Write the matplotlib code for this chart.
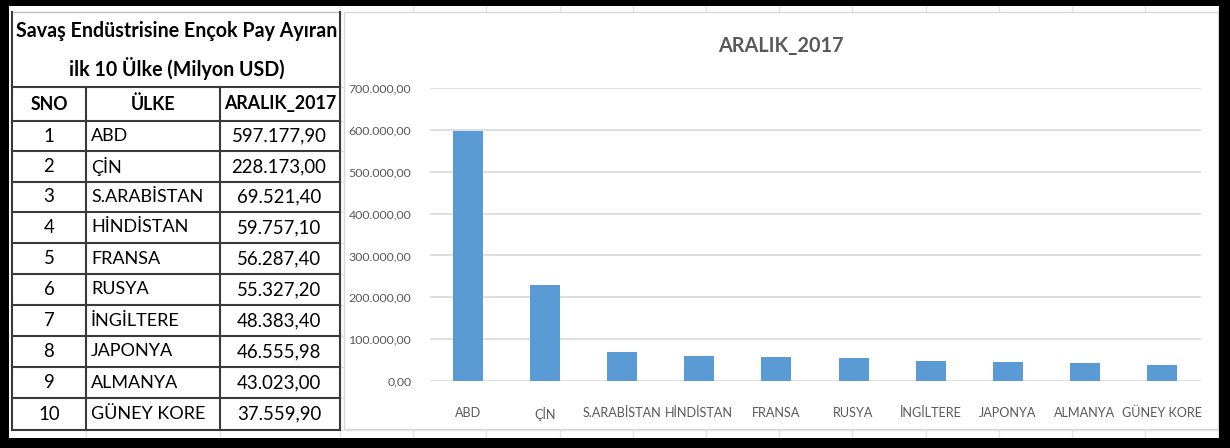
import numpy as np
import matplotlib.pyplot as plt
from matplotlib.patches import Rectangle
from matplotlib.ticker import FuncFormatter, MultipleLocator

"""""""""""""""""""""""""""""""""""""""""""""""""""""""""
: Data
"""""""""""""""""""""""""""""""""""""""""""""""""""""""""
sno = [1, 2, 3, 4, 5, 6, 7, 8, 9, 10]
ulke = ["ABD", "ÇİN", "S.ARABİSTAN", "HİNDİSTAN", "FRANSA",
        "RUSYA", "İNGİLTERE", "JAPONYA", "ALMANYA", "GÜNEY KORE"]
aralik_2017 = [597177.90, 228173.00, 69521.40, 59757.10, 56287.40,
               55327.20, 48383.40, 46555.98, 43023.00, 37559.90]
value_text = ["597.177,90", "228.173,00", "69.521,40", "59.757,10", "56.287,40",
              "55.327,20", "48.383,40", "46.555,98", "43.023,00", "37.559,90"]

table_title = ["Savaş Endüstrisine Ençok Pay Ayıran", "ilk 10 Ülke (Milyon USD)"]
headers = ["SNO", "ÜLKE", "ARALIK_2017"]
chart_title = "ARALIK_2017"

FONT = ["Lato", "DejaVu Sans"]
GRAY_TXT = "#595959"
GRID = "#D9D9D9"
BAR = "#5B9BD5"


def tr_number(v, pos=None):
	s = "{:,.2f}".format(v)
	return s.replace(",", "X").replace(".", ",").replace("X", ".")


"""""""""""""""""""""""""""""""""""""""""""""""""""""""""
: Canvas (pixel coords)
"""""""""""""""""""""""""""""""""""""""""""""""""""""""""
W, H = 1230, 448
fig = plt.figure(figsize=(W / 100, H / 100), dpi=100)
renderer = fig.canvas.get_renderer()


def fit_size(txt, target_px, weight="normal"):
	# font size that makes txt about target_px wide
	t = fig.text(0, 0, txt, fontsize=10, family=FONT, fontweight=weight)
	w = t.get_window_extent(renderer).width
	t.remove()
	return 10 * target_px / w


bg = fig.add_axes([0, 0, 1, 1])
bg.set_xlim(0, W)
bg.set_ylim(H, 0)
bg.axis("off")

# excel sheet grid in the background
for x in np.arange(340, W, 73.2):
	bg.plot([x, x], [0, H], color="#E3E3E3", lw=1, zorder=1)
row_y = [12, 87, 121, 151, 182, 212, 243, 274, 305, 336, 367, 398, 430]
for y in row_y[1:] + [440]:
	bg.plot([340, W], [y, y], color="#E3E3E3", lw=1, zorder=1)
bg.plot([86, 86], [430, 440], color="#E3E3E3", lw=1, zorder=1)
bg.plot([220, 220], [430, 440], color="#E3E3E3", lw=1, zorder=1)
bg.plot([12, 340], [440, 440], color="#E3E3E3", lw=1, zorder=1)

# chart area
bg.add_patch(Rectangle((344, 12), 1218 - 344, 429 - 12, facecolor="white",
                       edgecolor=GRID, lw=1, zorder=2))

# table lines
LINE = "#3A3A3A"
x_l, x_1, x_2, x_r = 12, 86, 220, 340
bg.plot([x_l, x_r], [12, 12], color="#BFBFBF", lw=1, zorder=3)
for y in row_y[1:]:
	bg.plot([x_l, x_r], [y, y], color=LINE, lw=1.5, zorder=3)
for x in [x_1, x_2]:
	bg.plot([x, x], [87, 430], color=LINE, lw=1.5, zorder=3)
bg.plot([x_l, x_l], [12, 430], color=LINE, lw=1.5, zorder=3)
bg.plot([x_r, x_r], [12, 430], color=LINE, lw=1.5, zorder=3)

# table texts
fs_title = fit_size(table_title[0], 322, "bold")
bg.text((x_l + x_r) / 2 + 1, 31, table_title[0], ha="center", va="center",
        fontsize=fs_title, fontweight="bold", family=FONT, zorder=4)
bg.text((x_l + x_r) / 2 + 1, 69, table_title[1], ha="center", va="center",
        fontsize=fs_title, fontweight="bold", family=FONT, zorder=4)

fs_head = fit_size(headers[2], 112, "bold")
bg.text((x_l + x_1) / 2, 104, headers[0], ha="center", va="center",
        fontsize=fs_head, fontweight="bold", family=FONT, zorder=4)
bg.text((x_1 + x_2) / 2, 104, headers[1], ha="center", va="center",
        fontsize=fs_head, fontweight="bold", family=FONT, zorder=4)
bg.text((x_2 + x_r) / 2, 104, headers[2], ha="center", va="center",
        fontsize=fs_head, fontweight="bold", family=FONT, zorder=4)

fs_val = fit_size(value_text[0], 95)
fs_name = fit_size(ulke[2], 112)
for i in range(len(sno)):
	yc = (row_y[i + 2] + row_y[i + 3]) / 2
	bg.text((x_l + x_1) / 2, yc, str(sno[i]), ha="center", va="center",
	        fontsize=fs_val, family=FONT, zorder=4)
	bg.text(x_1 + 5, yc, ulke[i], ha="left", va="center",
	        fontsize=fs_name, family=FONT, zorder=4)
	bg.text((x_2 + x_r) / 2 - 1, yc, value_text[i], ha="center", va="center",
	        fontsize=fs_val, family=FONT, zorder=4)

# chart title
bg.text((344 + 1218) / 2, 46, chart_title, ha="center", va="center",
        fontsize=fit_size(chart_title, 126, "bold"), fontweight="bold",
        color=GRAY_TXT, family=FONT, zorder=4)

# black frame
for (x, y, w, h) in [(0, 0, W, 6), (0, 0, 9, H), (1219, 0, W - 1219, H), (0, 438, W, H - 438)]:
	bg.add_patch(Rectangle((x, y), w, h, facecolor="black", edgecolor="none", zorder=10))

"""""""""""""""""""""""""""""""""""""""""""""""""""""""""
: Bar chart
"""""""""""""""""""""""""""""""""""""""""""""""""""""""""
left, right, top, bottom = 429.5, 1200.5, 88, 381
ax = fig.add_axes([left / W, (H - bottom) / H, (right - left) / W, (bottom - top) / H])
ax.set_facecolor("none")
pos = np.arange(len(ulke))
ax.bar(pos, aralik_2017, width=0.39, color=BAR, zorder=3)
ax.set_xlim(-0.5, len(ulke) - 0.5)
ax.set_ylim(0, 700000)
ax.yaxis.set_major_locator(MultipleLocator(100000))
ax.yaxis.set_major_formatter(FuncFormatter(tr_number))
ax.yaxis.grid(True, color=GRID, lw=1.2, zorder=0)
ax.set_axisbelow(True)
for s in ax.spines.values():
	s.set_visible(False)
ax.set_xticks(pos)
ax.set_xticklabels(ulke)
ax.tick_params(axis="both", length=0, colors=GRAY_TXT)
ax.tick_params(axis="y", pad=13)
ax.tick_params(axis="x", pad=19)
fs_ytick = fit_size("700.000,00", 63)
fs_xtick = fit_size("S.ARABİSTAN", 79)
for lab in ax.get_yticklabels():
	lab.set_family(FONT)
	lab.set_fontsize(fs_ytick)
for lab in ax.get_xticklabels():
	lab.set_family(FONT)
	lab.set_fontsize(fs_xtick)

fig.savefig("out.png", dpi=100)
plt.close()
